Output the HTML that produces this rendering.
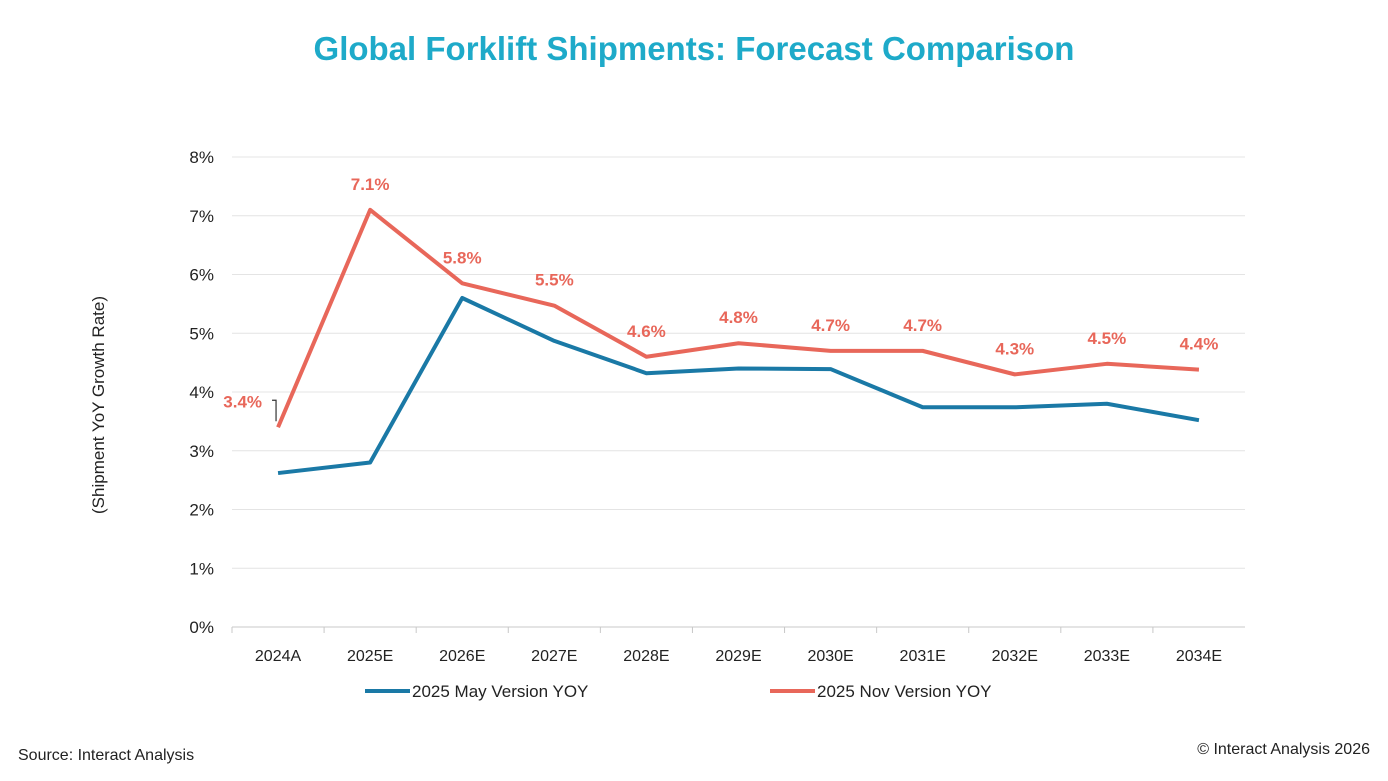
<!DOCTYPE html>
<html><head><meta charset="utf-8">
<style>
body{margin:0;background:#fff;font-family:"Liberation Sans",sans-serif;}
#wrap{position:relative;width:1388px;height:781px;overflow:hidden;}
</style></head>
<body>
<div id="wrap">
<svg id="chart" width="1388" height="781">
<text x="694" y="60" text-anchor="middle" font-size="33" font-weight="bold" fill="#1eaac9">Global Forklift Shipments: Forecast Comparison</text>
<text transform="translate(104,405) rotate(-90)" text-anchor="middle" font-size="17" fill="#222">(Shipment YoY Growth Rate)</text>
<g id="grid"></g><g id="xt"></g><g id="series"></g><g id="labels"></g>
<line x1="365" y1="691" x2="410" y2="691" stroke="#1a79a6" stroke-width="4"/>
<text x="412" y="697" font-size="17" fill="#222">2025 May Version YOY</text>
<line x1="770" y1="691" x2="815" y2="691" stroke="#e8675a" stroke-width="4"/>
<text x="817" y="697" font-size="17" fill="#222">2025 Nov Version YOY</text>
<text x="18" y="760" font-size="16" fill="#222">Source: Interact Analysis</text>
<text x="1370" y="754" text-anchor="end" font-size="16" fill="#222">© Interact Analysis 2026</text>
</svg>
</div>
<script>
const categories=["2024A","2025E","2026E","2027E","2028E","2029E","2030E","2031E","2032E","2033E","2034E"];
const mayValues=[2.62,2.8,5.6,4.87,4.32,4.4,4.39,3.74,3.74,3.8,3.52];
const novValues=[3.4,7.1,5.85,5.47,4.6,4.83,4.7,4.7,4.3,4.48,4.38];
const novLabels=["3.4%","7.1%","5.8%","5.5%","4.6%","4.8%","4.7%","4.7%","4.3%","4.5%","4.4%"];
const yTicks=[0,1,2,3,4,5,6,7,8];
const NS="http://www.w3.org/2000/svg";
const L=232,R=1245,Y0=627,PX=58.75;
const step=(R-L)/categories.length;
const xs=i=>L+step*(i+0.5);
const ys=v=>Y0-v*PX;
function mk(t,a,p){const e=document.createElementNS(NS,t);for(const k in a)e.setAttribute(k,a[k]);document.getElementById(p).appendChild(e);return e;}
yTicks.forEach(t=>{
 const g=mk('line',{x1:L,x2:R,y1:ys(t),y2:ys(t),stroke:t===0?'#c8c8c8':'#e4e4e4','stroke-width':1},'grid');
 
 
 const tx=mk('text',{x:214,y:ys(t)+6,'text-anchor':'end','font-size':17,fill:'#222'},'grid');
 tx.textContent=t+'%';
 
 
});
categories.forEach((c,i)=>{
 const tk=mk('line',{x1:L+step*i,x2:L+step*i,y1:Y0,y2:Y0+6,stroke:'#c8c8c8'},'xt');
 
 
 const t=mk('text',{x:xs(i),y:661,'text-anchor':'middle','font-size':16,fill:'#222'},'xt');
 t.textContent=c;
 
 
});
function line(vals,color,name){
 const p=mk('polyline',{points:vals.map((v,i)=>xs(i)+','+ys(v)).join(' '),fill:'none',stroke:color,'stroke-width':4,'stroke-linejoin':'round'},'series');
 
 
}
line(mayValues,'#1a79a6','may-version-line');
line(novValues,'#e8675a','nov-version-line');
novValues.forEach((v,i)=>{
 let x=xs(i),y=ys(v)-20,a='middle';
 if(i===0){x=xs(0)-16;y=ys(v)-20;a='end';
  const b=mk('path',{d:`M${xs(0)-6},${ys(v)-27} L${xs(0)-2},${ys(v)-27} L${xs(0)-2},${ys(v)-6}`,fill:'none',stroke:'#333','stroke-width':1.2},'labels');
  
  
 }
 const t=mk('text',{x:x,y:y,'text-anchor':a,'font-size':17,'font-weight':'bold',fill:'#e8675a'},'labels');
 t.textContent=novLabels[i];
 
 
});
</script>
</body></html>
